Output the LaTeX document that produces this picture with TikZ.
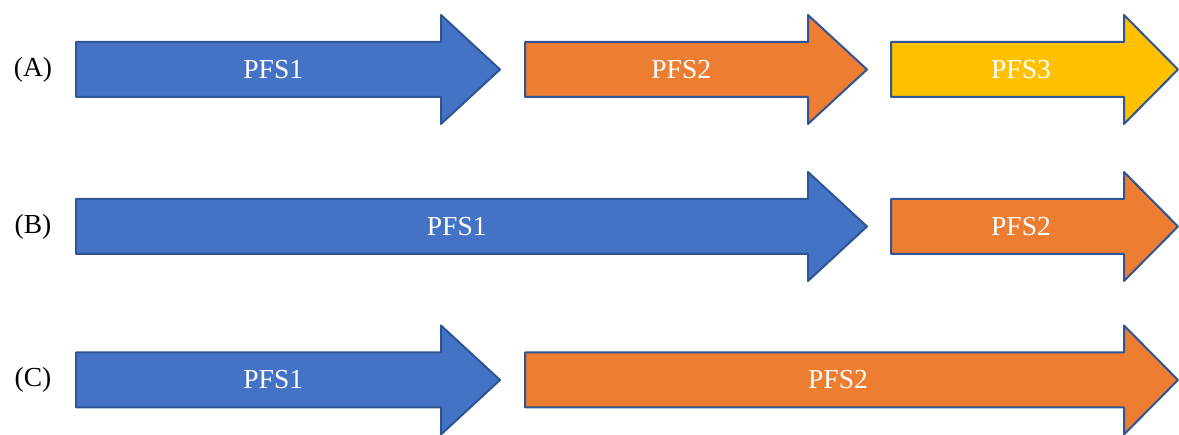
\documentclass[tikz,border=0pt]{standalone}
\usepackage{fontspec}
\setmainfont{Liberation Serif}
\definecolor{pblue}{HTML}{4472C4}
\definecolor{porange}{HTML}{ED7D31}
\definecolor{pyellow}{HTML}{FFC000}
\definecolor{pedge}{HTML}{2F5597}
\tikzset{
  arrowshape/.style={draw=pedge, line width=2pt, line join=round},
  arrowlabel/.style={text=white, font=\fontsize{27.5}{32}\selectfont, inner sep=0pt},
  rowlabel/.style={text=black, font=\fontsize{27.5}{32}\selectfont, inner sep=0pt}
}
% #1 name, #2 left, #3 head base, #4 tip, #5 center y, #6 color, #7 label
\newcommand{\pfsarrow}[7]{%
  \filldraw[arrowshape, fill=#6]
    (#2,#5-27.5) -- (#3,#5-27.5) -- (#3,#5-54.5) -- (#4,#5)
    -- (#3,#5+54.5) -- (#3,#5+27.5) -- (#2,#5+27.5) -- cycle;
  \node[arrowlabel] (#1) at ({(#2+#3)/4+(#2+#4)/4},#5) {#7};
}
\begin{document}
\begin{tikzpicture}[x=1pt,y=-1pt]
\useasboundingbox (0,0) rectangle (1179,435);
% row A
\node[rowlabel] (la) at (33,69.5) {(A)};
\pfsarrow{a1}{76}{441}{500}{69.5}{pblue}{PFS1}
\pfsarrow{a2}{525}{808}{867}{69.5}{porange}{PFS2}
\pfsarrow{a3}{891}{1124}{1178}{69.5}{pyellow}{PFS3}
% row B
\node[rowlabel] (lb) at (33,226.5) {(B)};
\pfsarrow{b1}{76}{808}{867}{226.5}{pblue}{PFS1}
\pfsarrow{b2}{891}{1124}{1178}{226.5}{porange}{PFS2}
% row C
\node[rowlabel] (lc) at (33,380) {(C)};
\pfsarrow{c1}{76}{441}{500}{380}{pblue}{PFS1}
\pfsarrow{c2}{525}{1124}{1178}{380}{porange}{PFS2}
\end{tikzpicture}
\end{document}
